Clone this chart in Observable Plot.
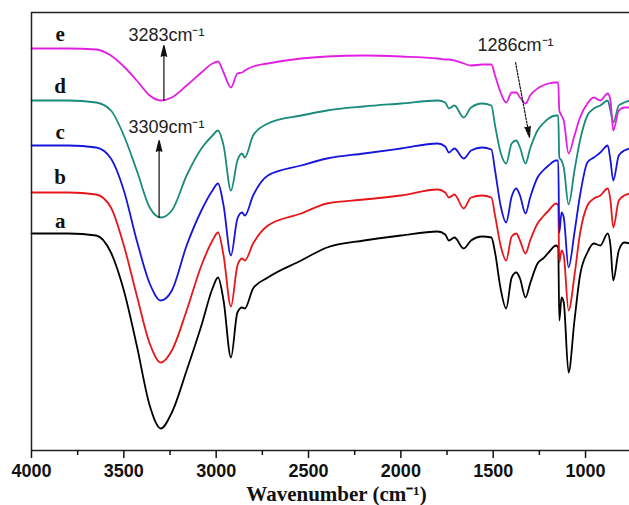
<!DOCTYPE html>
<html><head><meta charset="utf-8">
<script src="https://cdn.jsdelivr.net/npm/d3@7"></script>
<script src="https://cdn.jsdelivr.net/npm/@observablehq/plot@0.6"></script>
<style>body{margin:0;background:#fff}</style>
</head><body><div id="chart"></div>
<script>
// Wavenumber grid (cm-1) shared by all spectra
const wavenumbers = [4000, 3800, 3650, 3570, 3500, 3430, 3360, 3300, 3240, 3160,
  3080, 3020, 2990, 2960, 2920, 2885, 2860, 2845, 2800, 2720,
  2540, 2400, 2200, 2000, 1800, 1760, 1740, 1710, 1660, 1620,
  1560, 1510, 1490, 1460, 1430, 1400, 1375, 1355, 1325, 1300,
  1260, 1230, 1200, 1160, 1148, 1142, 1130, 1118, 1092, 1060,
  1030, 990, 955, 920, 880, 865, 850, 820, 790, 760];

// Transmittance (a.u., stacked)
const spectrumA = [217, 217, 215, 198, 160, 105, 45, 22, 38, 80,
  125, 162, 173, 150, 93, 138, 143, 142, 162, 173,
  190, 203, 210, 215, 219, 216, 210, 213, 202, 210,
  214, 213, 198, 162, 142, 173, 178, 172, 153, 167,
  187, 192, 198, 205, 203, 130, 153, 148, 78, 130,
  175, 198, 207, 205, 217, 205, 170, 200, 208, 207];
const spectrumB = [258, 258, 256, 243, 205, 155, 107, 88, 100, 140,
  185, 210, 218, 195, 144, 185, 192, 190, 207, 225,
  237, 247, 251, 255, 261, 258, 253, 256, 242, 253,
  255, 253, 235, 205, 190, 214, 217, 210, 197, 210,
  227, 234, 240, 247, 245, 188, 200, 195, 140, 175,
  217, 245, 252, 255, 262, 250, 223, 250, 255, 257];
const spectrumC = [305, 305, 303, 292, 260, 210, 167, 150, 160, 205,
  240, 260, 267, 245, 195, 232, 238, 235, 255, 275,
  285, 292, 297, 302, 307, 304, 298, 302, 292, 300,
  303, 301, 280, 245, 228, 254, 262, 255, 237, 253,
  273, 280, 285, 290, 290, 218, 238, 233, 183, 218,
  255, 288, 293, 298, 305, 290, 270, 295, 300, 302];
const spectrumD = [350, 350, 348, 340, 315, 280, 243, 233, 240, 275,
  302, 315, 320, 305, 260, 290, 297, 293, 315, 327,
  335, 340, 344, 347, 350, 348, 342, 345, 333, 343,
  347, 345, 325, 298, 287, 307, 310, 303, 287, 302,
  320, 327, 332, 335, 335, 293, 290, 283, 246, 280,
  310, 335, 342, 345, 350, 340, 328, 345, 348, 350];
const spectrumE = [402, 402, 401, 395, 384, 370, 355, 350, 353, 365,
  378, 387, 389, 378, 363, 377, 378, 380, 384, 387,
  392, 394, 395, 394, 392, 391, 391, 390, 387, 385,
  386, 386, 375, 358, 348, 358, 358, 353, 347, 355,
  362, 365, 367, 368, 368, 340, 335, 330, 297, 315,
  333, 347, 353, 350, 357, 350, 320, 340, 343, 343];

const seriesNames = ["a", "b", "c", "d", "e"];
const seriesValues = [spectrumA, spectrumB, spectrumC, spectrumD, spectrumE];
const seriesColors = ["#000000", "#e8161a", "#1515de", "#1a8a7a", "#e31ee3"];

const majorTicks = [4000, 3500, 3000, 2500, 2000, 1500, 1000];
const minorTicks = [3750, 3250, 2750, 2250, 1750, 1250];

// Curve letters (wavenumber, value at baseline)
const letterX = 3845;
const letterY = [223, 267, 312, 358, 410];

// Peak annotations
const annotationText = ["3283cm\u207B\u00B9", "3309cm\u207B\u00B9", "1286cm\u207B\u00B9"];
const annotationX = [3475, 3475, 1585];
const annotationY = [410, 318, 400];
// Arrows: [from wn, from value, to wn, to value]
const arrowFromX = [3283, 3309, 1379];
const arrowFromY = [350, 233, 388];
const arrowToX = [3283, 3309, 1303];
const arrowToY = [405, 310, 313];

const rows = seriesNames.flatMap((name, i) =>
  wavenumbers.map((w, j) => ({series: name, wn: w, t: seriesValues[i][j]})));
const arrows = arrowFromX.map((x, i) => ({x1: x, y1: arrowFromY[i], x2: arrowToX[i], y2: arrowToY[i], dashed: i === 2}));
const notes = annotationText.map((t, i) => ({text: t, x: annotationX[i], y: annotationY[i]}));
const letters = seriesNames.map((n, i) => ({text: n, x: letterX, y: letterY[i]}));

const serif = "'Liberation Serif', 'Times New Roman', serif";
const sans = "'Liberation Sans', Arial, sans-serif";

const chart = Plot.plot({
  width: 629, height: 505,
  marginLeft: 31, marginRight: 0, marginTop: 12, marginBottom: 55,
  x: {domain: [4000, 762], axis: null},
  y: {domain: [0, 438], axis: null},
  color: {domain: seriesNames, range: seriesColors},
  style: {background: "#fff", fontFamily: sans, color: "#111"},
  marks: [
    Plot.line(rows, {x: "wn", y: "t", z: "series", stroke: "series", strokeWidth: 1.8, curve: "monotone-x"}),
    Plot.ruleX([4000], {stroke: "#222", strokeWidth: 1.5}),
    Plot.ruleY([0], {stroke: "#222", strokeWidth: 1.5}),
    Plot.ruleY([438], {stroke: "#222", strokeWidth: 1.5}),
    Plot.axisX({ticks: majorTicks, tickSize: 8, tickPadding: 6, strokeWidth: 1.5, tickFormat: d => String(d), fontSize: 18, fontWeight: "bold", fontFamily: sans, label: null}),
    Plot.axisX({ticks: minorTicks, tickSize: 5, strokeWidth: 1.5, tickFormat: () => "", label: null}),
    Plot.text(letters, {x: "x", y: "y", text: "text", fontFamily: serif, fontWeight: "bold", fontSize: 21, lineAnchor: "bottom", fill: "#111"}),
    Plot.text(notes, {x: "x", y: "y", text: "text", textAnchor: "start", lineAnchor: "bottom", fontSize: 18, fontFamily: sans, fill: "#222"}),
    Plot.arrow(arrows.filter(d => !d.dashed), {x1: "x1", y1: "y1", x2: "x2", y2: "y2", stroke: "#111", fill: "#111", strokeWidth: 1.2, headLength: 14, headAngle: 28}),
    Plot.arrow(arrows.filter(d => d.dashed), {x1: "x1", y1: "y1", x2: "x2", y2: "y2", stroke: "#111", fill: "#111", strokeWidth: 1.2, strokeDasharray: "2,1.5", headLength: 14, headAngle: 28}),
    Plot.text(["Wavenumber (cm\u207B\u00B9)"], {frameAnchor: "bottom", dx: 6, dy: 50, lineAnchor: "bottom", fontFamily: serif, fontWeight: "bold", fontSize: 21, fill: "#111"})
  ]
});
document.getElementById("chart").appendChild(chart);
</script>
</body></html>
